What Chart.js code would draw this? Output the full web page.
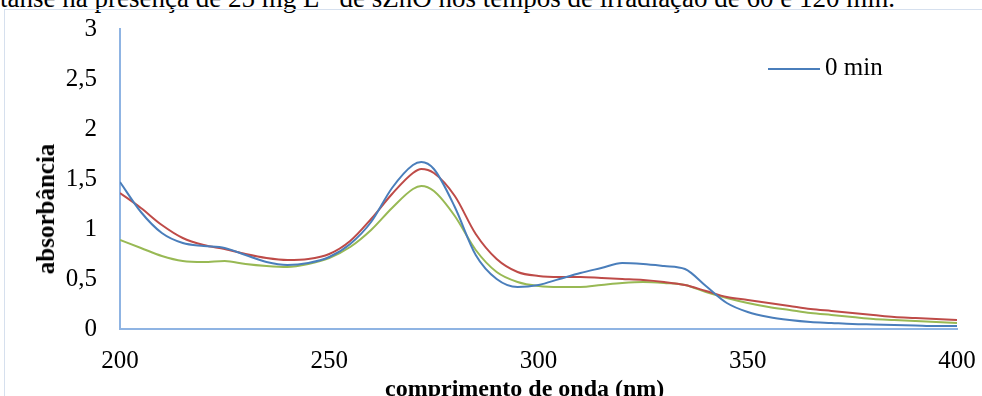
<!DOCTYPE html>
<html>
<head>
<meta charset="utf-8">
<script src="https://cdn.jsdelivr.net/npm/chart.js@4/dist/chart.umd.min.js"></script>
<style>
  html, body { margin: 0; padding: 0; background: #fff; overflow: hidden; }
  body { width: 982px; height: 396px; position: relative; font-family: "Liberation Serif", "Times New Roman", serif; }
  #caption { position: absolute; left: 0; top: -18px; font-size: 27px; line-height: 20px; white-space: nowrap; color: #000; }
  #frame { position: absolute; left: 4px; top: 9px; width: 1000px; height: 420px; border: 1px solid #d6e0ee; }
  #chart { position: absolute; left: 0; top: 0; }
  .legend { position: absolute; left: 768px; top: 53px; font-size: 25px; line-height: 28px; white-space: nowrap; }
  .legend span.swatch { display: inline-block; width: 52px; height: 2px; background: #4a7ebb; vertical-align: middle; margin-right: 5px; }
  #xTitle { position: absolute; left: 385px; top: 374px; font-size: 24px; font-weight: bold; white-space: nowrap; line-height: 28px; }
  #yTitle { position: absolute; left: 46px; top: 209px; font-size: 25px; font-weight: bold; white-space: nowrap; line-height: 28px;
            transform: translate(-50%, -50%) rotate(-90deg); }
</style>
</head>
<body>
<div id="caption">tanse na presença de 25 mg L<sup style="font-size:16px">-1</sup> de sZnO nos tempos de irradiação de 60 e 120 min.</div>
<div id="frame"></div>
<canvas id="chart" width="982" height="396"></canvas>
<div class="legend"><span class="swatch"></span>0 min</div>
<div id="xTitle">comprimento de onda (nm)</div>
<div id="yTitle">absorbância</div>
<script>
// wavelengths (nm)
const wavelengths = [200, 205, 210, 215, 220, 225, 230, 235, 240, 245, 250, 255, 260, 265, 270, 272, 275, 280, 285, 290,
                     295, 300, 305, 310, 315, 320, 325, 330, 335, 340, 345, 350, 355, 360, 365, 370, 375, 380, 385, 390, 395, 400];

// absorbance for each irradiation time
const abs0 = [1.47, 1.17, 0.96, 0.86, 0.83, 0.81, 0.74, 0.67, 0.64, 0.66, 0.72, 0.85, 1.07, 1.41, 1.64, 1.67, 1.60, 1.22, 0.74, 0.50,
              0.42, 0.44, 0.50, 0.56, 0.61, 0.66, 0.65, 0.63, 0.60, 0.43, 0.26, 0.17, 0.12, 0.09, 0.07, 0.06, 0.05, 0.045, 0.04, 0.035, 0.03, 0.03];
const abs60 = [1.36, 1.21, 1.04, 0.91, 0.84, 0.80, 0.75, 0.71, 0.69, 0.70, 0.75, 0.88, 1.10, 1.35, 1.56, 1.60, 1.56, 1.33, 0.95, 0.70,
               0.57, 0.53, 0.52, 0.52, 0.51, 0.50, 0.49, 0.47, 0.44, 0.38, 0.32, 0.29, 0.26, 0.23, 0.20, 0.18, 0.16, 0.14, 0.12, 0.11, 0.10, 0.09];
const abs120 = [0.89, 0.81, 0.73, 0.68, 0.67, 0.68, 0.65, 0.63, 0.62, 0.65, 0.71, 0.82, 0.99, 1.21, 1.40, 1.43, 1.38, 1.13, 0.79, 0.57,
                0.47, 0.43, 0.42, 0.42, 0.44, 0.46, 0.47, 0.46, 0.44, 0.37, 0.31, 0.26, 0.22, 0.19, 0.16, 0.14, 0.12, 0.10, 0.09, 0.08, 0.07, 0.06];

const seriesNames = ['0 min', '60 min', '120 min'];
const xTicks = [200, 250, 300, 350, 400];
const yTicks = [0, 0.5, 1, 1.5, 2, 2.5, 3];

function toPoints(values) {
    return wavelengths.map((w, i) => ({ x: w, y: values[i] }));
}

const serif = "'Liberation Serif', 'Times New Roman', serif";
const axisBlue = '#8fb4e3';

const ctx = document.getElementById('chart').getContext('2d');
new Chart(ctx, {
    type: 'line',
    data: {
        datasets: [
            { label: seriesNames[0], data: toPoints(abs0), borderColor: '#4a7ebb' },
            { label: seriesNames[1], data: toPoints(abs60), borderColor: '#be4b48' },
            { label: seriesNames[2], data: toPoints(abs120), borderColor: '#98b954' }
        ]
    },
    options: {
        responsive: false,
        animation: false,
        layout: { padding: { top: 29, right: 25, left: 0, bottom: 0 } },
        elements: {
            point: { radius: 0 },
            line: { borderWidth: 2, cubicInterpolationMode: 'monotone', fill: false }
        },
        plugins: { legend: { display: false }, tooltip: { enabled: false } },
        scales: {
            x: {
                type: 'linear', min: 200, max: 400,
                // fixed height, and no extra margin for the end labels
                afterFit: s => { s.height = 67; s.paddingLeft = 0; s.paddingRight = 0; },
                afterBuildTicks: s => { s.ticks = xTicks.map(v => ({ value: v })); },
                grid: { display: false, drawTicks: false },
                border: { display: true, color: axisBlue, width: 2 },
                ticks: { color: '#000', padding: 17, font: { family: serif, size: 25 } }
            },
            y: {
                min: 0, max: 3,
                afterFit: s => { s.width = 120; s.paddingTop = 0; s.paddingBottom = 0; },
                afterBuildTicks: s => { s.ticks = yTicks.map(v => ({ value: v })); },
                grid: { display: false, drawTicks: false },
                border: { display: true, color: axisBlue, width: 2 },
                ticks: {
                    color: '#000', padding: 23, font: { family: serif, size: 25 },
                    callback: v => String(v).replace('.', ',')
                }
            }
        }
    }
});
</script>
</body>
</html>
